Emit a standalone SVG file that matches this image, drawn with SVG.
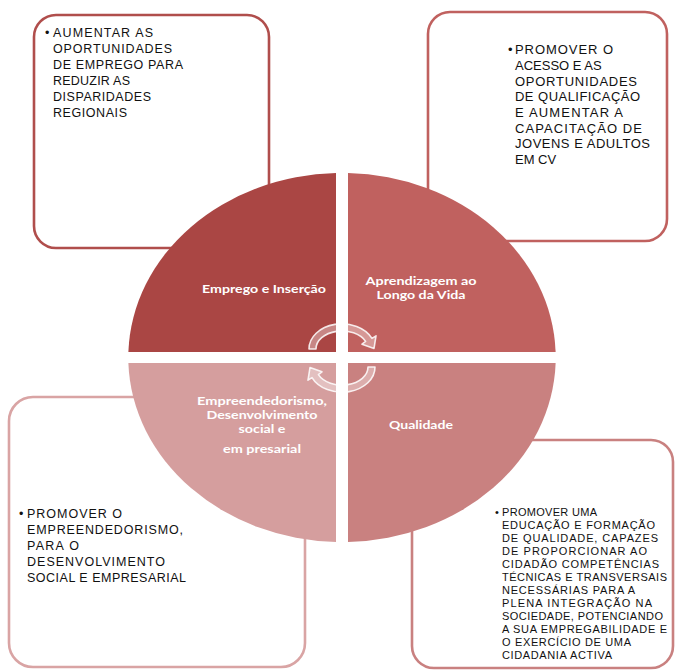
<svg xmlns="http://www.w3.org/2000/svg" width="675" height="671" viewBox="0 0 675 671">
<style>
.box{fill:#ffffff;stroke-width:2.6}
.bt{font-family:"Liberation Sans",Arial,sans-serif;font-size:12.5px;fill:#111111}
.bt2{font-family:"Liberation Sans",Arial,sans-serif;font-size:13px;fill:#111111}
.bts{font-family:"Liberation Sans",Arial,sans-serif;font-size:11px;fill:#111111}
.lab{font-family:Lato,"Liberation Sans",sans-serif;font-size:11.5px;font-weight:bold;fill:#ffffff;text-anchor:middle}
.arr{fill:#ffffff;fill-opacity:0.35;stroke:#ffffff;stroke-opacity:0.85;stroke-width:1.6;stroke-linejoin:round}
</style>
<rect width="675" height="671" fill="#ffffff"/>

<g id="box-emprego">
<rect class="box" x="34" y="15" width="235" height="233" rx="22" stroke="#B04E4C"/>
<text class="bt" x="45" y="37">•</text>
<text class="bt" x="53" y="37" textLength="100" lengthAdjust="spacing">AUMENTAR AS</text>
<text class="bt" x="53" y="53" textLength="119" lengthAdjust="spacing">OPORTUNIDADES</text>
<text class="bt" x="53" y="69" textLength="130" lengthAdjust="spacing">DE EMPREGO  PARA</text>
<text class="bt" x="53" y="85" textLength="77" lengthAdjust="spacing">REDUZIR AS</text>
<text class="bt" x="53" y="101" textLength="98" lengthAdjust="spacing">DISPARIDADES</text>
<text class="bt" x="53" y="117" textLength="74" lengthAdjust="spacing">REGIONAIS</text>
</g>

<g id="box-aprendizagem">
<rect class="box" x="428" y="12" width="239" height="229" rx="22" stroke="#C0615F"/>
<text class="bt2" x="508" y="54">•</text>
<text class="bt2" x="515" y="54" textLength="98" lengthAdjust="spacing">PROMOVER O</text>
<text class="bt2" x="515" y="70">ACESSO E AS</text>
<text class="bt2" x="515" y="86" textLength="122" lengthAdjust="spacing">OPORTUNIDADES</text>
<text class="bt2" x="515" y="101" textLength="125" lengthAdjust="spacing">DE QUALIFICAÇÃO</text>
<text class="bt2" x="515" y="117" textLength="108" lengthAdjust="spacing">E AUMENTAR A</text>
<text class="bt2" x="515" y="133" textLength="127" lengthAdjust="spacing">CAPACITAÇÃO DE</text>
<text class="bt2" x="515" y="148" textLength="135" lengthAdjust="spacing">JOVENS E ADULTOS</text>
<text class="bt2" x="515" y="164">EM CV</text>
</g>

<g id="box-empreendedorismo">
<rect class="box" x="9" y="397" width="296" height="270" rx="24" stroke="#D9A4A4"/>
<text class="bt" x="19" y="518">•</text>
<text class="bt" x="27" y="518" textLength="95" lengthAdjust="spacing">PROMOVER O</text>
<text class="bt" x="27" y="534" textLength="156" lengthAdjust="spacing">EMPREENDEDORISMO,</text>
<text class="bt" x="27" y="550" textLength="52" lengthAdjust="spacing">PARA O</text>
<text class="bt" x="27" y="566" textLength="138" lengthAdjust="spacing">DESENVOLVIMENTO</text>
<text class="bt" x="27" y="582" textLength="159" lengthAdjust="spacing">SOCIAL E EMPRESARIAL</text>
</g>

<g id="box-qualidade">
<rect class="box" x="412" y="440" width="261" height="228" rx="22" stroke="#C98180"/>
<text class="bts" x="495" y="516">•</text>
<text class="bts" x="502" y="516" textLength="95" lengthAdjust="spacing">PROMOVER UMA</text>
<text class="bts" x="502" y="529" textLength="153" lengthAdjust="spacing">EDUCAÇÃO E FORMAÇÃO</text>
<text class="bts" x="502" y="542" textLength="156" lengthAdjust="spacing">DE QUALIDADE, CAPAZES</text>
<text class="bts" x="502" y="555" textLength="145" lengthAdjust="spacing">DE PROPORCIONAR AO</text>
<text class="bts" x="502" y="568" textLength="157" lengthAdjust="spacing">CIDADÃO COMPETÊNCIAS</text>
<text class="bts" x="502" y="581" textLength="165" lengthAdjust="spacing">TÉCNICAS E TRANSVERSAIS</text>
<text class="bts" x="502" y="594" textLength="133" lengthAdjust="spacing">NECESSÁRIAS PARA A</text>
<text class="bts" x="502" y="607" textLength="150" lengthAdjust="spacing">PLENA INTEGRAÇÃO NA</text>
<text class="bts" x="502" y="620" textLength="161" lengthAdjust="spacing">SOCIEDADE, POTENCIANDO</text>
<text class="bts" x="502" y="633" textLength="165" lengthAdjust="spacing">A SUA EMPREGABILIDADE E</text>
<text class="bts" x="502" y="646" textLength="129" lengthAdjust="spacing">O EXERCÍCIO DE UMA</text>
<text class="bts" x="502" y="659" textLength="110" lengthAdjust="spacing">CIDADANIA ACTIVA</text>
</g>

<g id="q-emprego">
<path d="M336 352 L336 173.07 A213.7 184.5 0 0 0 128.4 352 Z" fill="#AA4644"/>
<text class="lab" x="264" y="293" textLength="124" lengthAdjust="spacingAndGlyphs">Emprego e Inserção</text>
</g>
<g id="q-aprendizagem">
<path d="M348 352 L348 173.07 A213.7 184.5 0 0 1 555.6 352 Z" fill="#C0615F"/>
<text class="lab" x="421" y="285" textLength="111" lengthAdjust="spacingAndGlyphs">Aprendizagem ao</text>
<text class="lab" x="421" y="299" textLength="89" lengthAdjust="spacingAndGlyphs">Longo da Vida</text>
</g>
<g id="q-empreendedorismo">
<path d="M336 363 L128.4 363 A213.7 184.5 0 0 0 336 541.93 Z" fill="#D59E9E"/>
<text class="lab" x="262" y="405" textLength="130" lengthAdjust="spacingAndGlyphs">Empreendedorismo,</text>
<text class="lab" x="262" y="419" textLength="111" lengthAdjust="spacingAndGlyphs">Desenvolvimento</text>
<text class="lab" x="262" y="433" textLength="47" lengthAdjust="spacingAndGlyphs">social e</text>
<text class="lab" x="262" y="453" textLength="78" lengthAdjust="spacingAndGlyphs">em presarial</text>
</g>
<g id="q-qualidade">
<path d="M348 363 L555.6 363 A213.7 184.5 0 0 1 348 541.93 Z" fill="#C98180"/>
<text class="lab" x="421" y="429" textLength="64" lengthAdjust="spacingAndGlyphs">Qualidade</text>
</g>

<g id="connectors">
<path class="arr" d="M309 349 A33 25 0 0 1 372 338.4 L376 335.8 L374 348.5 L362 344.2 L365.6 341.4 A26 18 0 0 0 316 349 Z"/>
<path class="arr" transform="rotate(180 342 358)" d="M309 349 A33 25 0 0 1 372 338.4 L376 335.8 L374 348.5 L362 344.2 L365.6 341.4 A26 18 0 0 0 316 349 Z"/>
</g>
</svg>
